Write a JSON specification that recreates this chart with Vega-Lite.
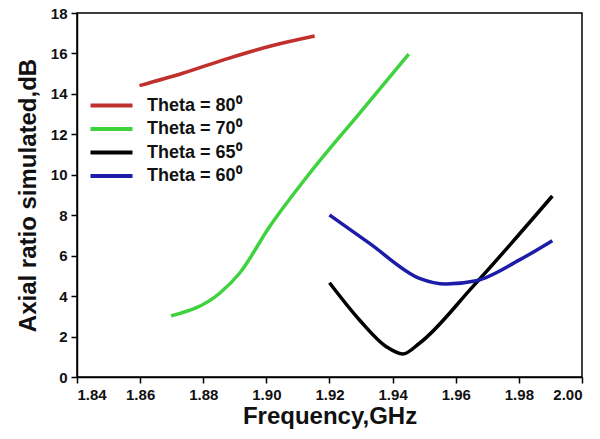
{
  "$schema": "https://vega.github.io/schema/vega-lite/v6.json",
  "width": 505,
  "height": 364,
  "autosize": {"type": "none"},
  "padding": {"left": 77, "top": 13, "right": 18, "bottom": 62},
  "background": "white",
  "config": {
    "font": "Liberation Sans",
    "view": {"stroke": "black", "strokeWidth": 1.5},
    "axis": {
      "grid": false,
      "domainColor": "black",
      "domainWidth": 1.5,
      "tickColor": "black",
      "tickWidth": 1.5,
      "tickSize": 6,
      "labelFont": "Liberation Sans",
      "labelFontWeight": "bold",
      "labelFontSize": 15,
      "labelColor": "#111",
      "titleFont": "Liberation Sans",
      "titleFontWeight": "bold",
      "titleFontSize": 24,
      "titleColor": "#111"
    }
  },
  "data": {
    "values": [
      {"f": 1.8598, "ar": 14.41, "s": "Theta = 80⁰"},
      {"f": 1.8735, "ar": 15.02, "s": "Theta = 80⁰"},
      {"f": 1.888, "ar": 15.76, "s": "Theta = 80⁰"},
      {"f": 1.902, "ar": 16.39, "s": "Theta = 80⁰"},
      {"f": 1.9153, "ar": 16.86, "s": "Theta = 80⁰"},
      {"f": 1.8698, "ar": 3.02, "s": "Theta = 70⁰"},
      {"f": 1.8852, "ar": 4.14, "s": "Theta = 70⁰"},
      {"f": 1.8915, "ar": 5.13, "s": "Theta = 70⁰"},
      {"f": 1.901, "ar": 7.43, "s": "Theta = 70⁰"},
      {"f": 1.9137, "ar": 10.07, "s": "Theta = 70⁰"},
      {"f": 1.9295, "ar": 13.04, "s": "Theta = 70⁰"},
      {"f": 1.9451, "ar": 15.97, "s": "Theta = 70⁰"},
      {"f": 1.92, "ar": 4.66, "s": "Theta = 65⁰"},
      {"f": 1.9295, "ar": 2.82, "s": "Theta = 65⁰"},
      {"f": 1.938, "ar": 1.5, "s": "Theta = 65⁰"},
      {"f": 1.9432, "ar": 1.14, "s": "Theta = 65⁰"},
      {"f": 1.9485, "ar": 1.67, "s": "Theta = 65⁰"},
      {"f": 1.9654, "ar": 4.47, "s": "Theta = 65⁰"},
      {"f": 1.9906, "ar": 8.95, "s": "Theta = 65⁰"},
      {"f": 1.92, "ar": 8.01, "s": "Theta = 60⁰"},
      {"f": 1.9327, "ar": 6.61, "s": "Theta = 60⁰"},
      {"f": 1.9485, "ar": 4.88, "s": "Theta = 60⁰"},
      {"f": 1.957, "ar": 4.6, "s": "Theta = 60⁰"},
      {"f": 1.9665, "ar": 4.76, "s": "Theta = 60⁰"},
      {"f": 1.9802, "ar": 5.79, "s": "Theta = 60⁰"},
      {"f": 1.9906, "ar": 6.74, "s": "Theta = 60⁰"}
    ]
  },
  "mark": {"type": "line", "strokeWidth": 3.5, "interpolate": "monotone"},
  "encoding": {
    "x": {
      "field": "f",
      "type": "quantitative",
      "title": "Frequency,GHz",
      "scale": {"domain": [1.84, 2.0], "nice": false, "zero": false},
      "axis": {"values": [1.84, 1.86, 1.88, 1.9, 1.92, 1.94, 1.96, 1.98, 2.0], "format": ".2f", "labelPadding": 4, "titlePadding": 2}
    },
    "y": {
      "field": "ar",
      "type": "quantitative",
      "title": "Axial ratio simulated,dB",
      "scale": {"domain": [0, 18], "nice": false},
      "axis": {"values": [0, 2, 4, 6, 8, 10, 12, 14, 16, 18], "labelPadding": 4, "titlePadding": 10}
    },
    "color": {
      "field": "s",
      "type": "nominal",
      "sort": ["Theta = 80⁰", "Theta = 70⁰", "Theta = 65⁰", "Theta = 60⁰"],
      "scale": {
        "domain": ["Theta = 80⁰", "Theta = 70⁰", "Theta = 65⁰", "Theta = 60⁰"],
        "range": ["#c0302c", "#3fd23f", "#000000", "#1c1ca8"]
      },
      "legend": {
        "title": null,
        "orient": "none",
        "legendX": 22,
        "legendY": 80,
        "symbolType": "M-2,0H2",
        "symbolSize": 441,
        "symbolStrokeWidth": 4,
        "symbolFillColor": "transparent",
        "labelFont": "Liberation Sans",
        "labelFontWeight": "bold",
        "labelFontSize": 18,
        "labelColor": "#111",
        "labelOffset": 23,
        "rowPadding": 1.5
      }
    }
  }
}
